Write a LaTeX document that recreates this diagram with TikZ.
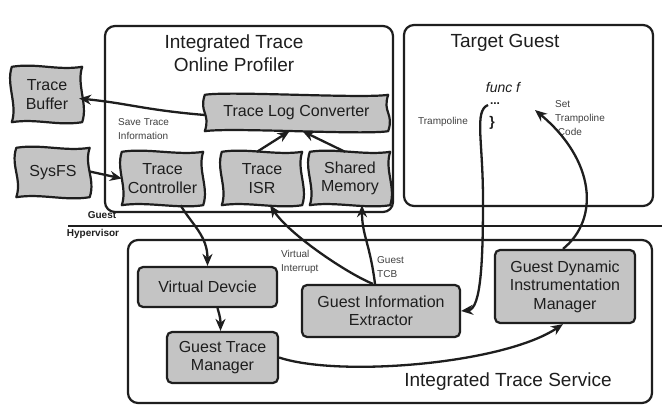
\documentclass[tikz,border=0pt]{standalone}
\usepackage{fontspec}
\setmainfont{Liberation Sans}
\usetikzlibrary{arrows.meta,calc}
\pgfdeclarelayer{bg}\pgfdeclarelayer{mid}
\pgfsetlayers{bg,mid,main}
\definecolor{boxgray}{HTML}{C4C4C4}
\definecolor{ink}{HTML}{1E1E1E}
\tikzset{
  bigbox/.style={draw=ink, line width=2.2pt, rounded corners=10pt, fill=white, inner sep=0pt},
  flagn/.style={inner sep=0pt, align=center, text=ink, font=\fontsize{16}{18.5}\selectfont},
  flagline/.style={draw=ink, line width=2.2pt, fill=boxgray, line join=round},
  rbox/.style={draw=ink, line width=2.2pt, rounded corners=5pt, fill=boxgray, inner sep=0pt, align=center, text=ink, font=\fontsize{16}{18.5}\selectfont},
  titletxt/.style={align=center, text=ink, font=\fontsize{19}{23}\selectfont, inner sep=0pt},
  smalltxt/.style={align=left, text=ink!85, font=\fontsize{10}{14}\selectfont, inner sep=0pt},
  sidetxt/.style={text=ink, font=\bfseries\fontsize{10}{12}\selectfont, inner sep=0pt},
  conn/.style={draw=ink, line width=2.3pt, -{Stealth[length=12pt,width=10pt]}},
}
\newcommand\flagoutline[1]{%
  \begin{pgfonlayer}{mid}
  \draw[flagline] (#1.north west) .. controls +(25,-4) and +(-25,4) .. (#1.north east)
     .. controls +(-6,18) and +(6,-18) .. (#1.south east)
     .. controls +(-25,4) and +(25,-4) .. (#1.south west)
     .. controls +(6,-18) and +(-6,18) .. cycle;
  \end{pgfonlayer}}
\begin{document}
\begin{tikzpicture}[x=1pt,y=-1pt]
\useasboundingbox (0,0) rectangle (662,406);

% big containers
\begin{pgfonlayer}{bg}
\fill[white] (0,0) rectangle (662,406);
\node[bigbox, minimum width=288, minimum height=186] (itop) at (249,119) {};
\node[bigbox, minimum width=249, minimum height=181] (tgt) at (528.5,115.5) {};
\node[bigbox, minimum width=524, minimum height=163] (its) at (390,321.5) {};
\end{pgfonlayer}

\node[titletxt] (itoptitle) at (234,53) {Integrated Trace\\Online Profiler};
\node[titletxt] (tgttitle) at (505,43) {Target Guest};
\node[titletxt] (itstitle) at (508,382) {Integrated Trace Service};

% guest / hypervisor divider
\coordinate (hl) at (68,226);
\coordinate (hr) at (662,226);
\begin{pgfonlayer}{bg}
\draw[ink, line width=2pt] (hl) -- (hr);
\end{pgfonlayer}
\node[sidetxt] (guestlbl) at (102,215) {Guest};
\node[sidetxt] (hyperlbl) at (93,234) {Hypervisor};

% flag-shaped nodes
\node[flagn, minimum width=70, minimum height=55] (tb) at (47,94.5) {Trace\\Buffer};
\node[flagn, minimum width=73, minimum height=49] (sysfs) at (53,172.5) {SysFS};
\node[flagn, minimum width=183, minimum height=36] (tlc) at (296.5,113) {Trace Log Converter};
\node[flagn, minimum width=81, minimum height=53] (tc) at (162.5,178.5) {Trace\\Controller};
\node[flagn, minimum width=80, minimum height=53] (isr) at (262,178.5) {Trace\\ISR};
\node[flagn, minimum width=80, minimum height=53] (sm) at (350,178.5) {Shared\\Memory};
\flagoutline{tb}\flagoutline{sysfs}\flagoutline{tlc}
\flagoutline{tc}\flagoutline{isr}\flagoutline{sm}

% rounded nodes
\node[rbox, minimum width=139, minimum height=40] (vd) at (207.5,287) {Virtual Devcie};
\node[rbox, minimum width=111, minimum height=51] (gtm) at (222.5,357.5) {Guest Trace\\Manager};
\node[rbox, minimum width=158, minimum height=52] (gie) at (381,311) {Guest Information\\Extractor};
\node[rbox, minimum width=140, minimum height=73] (gdim) at (565,286.5) {Guest Dynamic\\Instrumentation\\Manager};

% target guest contents
\node[text=ink, font=\itshape\fontsize{14}{16}\selectfont, inner sep=0pt] (func) at (503,87) {func f};
\node[text=ink, font=\bfseries\fontsize{12}{12}\selectfont, inner sep=0pt] (dots) at (495,104) {...};
\node[text=ink, font=\bfseries\fontsize{14}{14}\selectfont, inner sep=0pt] (brace) at (492,123) {\}};
\node[smalltxt] (tramplbl) at (443,122) {Trampoline};
\node[smalltxt, anchor=west] (setlbl) at (555,118) {Set\\Trampoline\\\ Code};

% labels
\node[smalltxt, anchor=west] (savelbl) at (118,129) {Save Trace\\Information};
\node[smalltxt, anchor=west] (vilbl) at (281,262) {Virtual\\Interrupt};
\node[smalltxt, anchor=west] (tcblbl) at (377,267) {Guest\\TCB};

% connectors
\draw[conn] ($(tlc.west)+(0,2)$) .. controls +(-60,-5) and +(50,5) .. ($(tb.east)+(-3,4)$);
\draw[conn] ($(sysfs.east)+(0,-1)$) -- (tc.west);
\draw[conn] ($(isr.north)+(-5,0)$) -- ($(tlc.south)+(-7,0)$);
\draw[conn] ($(sm.north)+(-5,0)$) -- ($(tlc.south)+(6,0)$);
\draw[conn] ($(tc.south)+(18,0)$) .. controls +(12,20) and +(0,-30) .. (vd.north);
\draw[conn] ($(vd.south)+(10,0)$) .. controls +(3,10) and +(0,-10) .. ($(gtm.north)+(-2,0)$);
\draw[conn] ($(gie.north)+(-8,0)$) .. controls +(-25,-10) and +(20,30) .. ($(isr.south)+(8,0)$);
\draw[conn] ($(gie.north)+(-6,0)$) .. controls +(-5,-40) and +(0,30) .. ($(sm.south)+(12,0)$);
\coordinate (tstart) at (488,105);
\coordinate (tmid) at (483,200);
\draw[conn] (tstart) .. controls +(-14,6) and +(0,-60) .. (tmid) .. controls +(0,60) and +(20,-2) .. (gie.east);
\coordinate (tset) at (535,110);
\draw[conn] ($(gdim.north)+(-2,0)$) .. controls +(37,-30) and +(60,50) .. (tset);
\draw[conn] (gtm.east) .. controls +(60,20) and +(-60,40) .. ($(gdim.south)+(-2,0)$);
\end{tikzpicture}
\end{document}
